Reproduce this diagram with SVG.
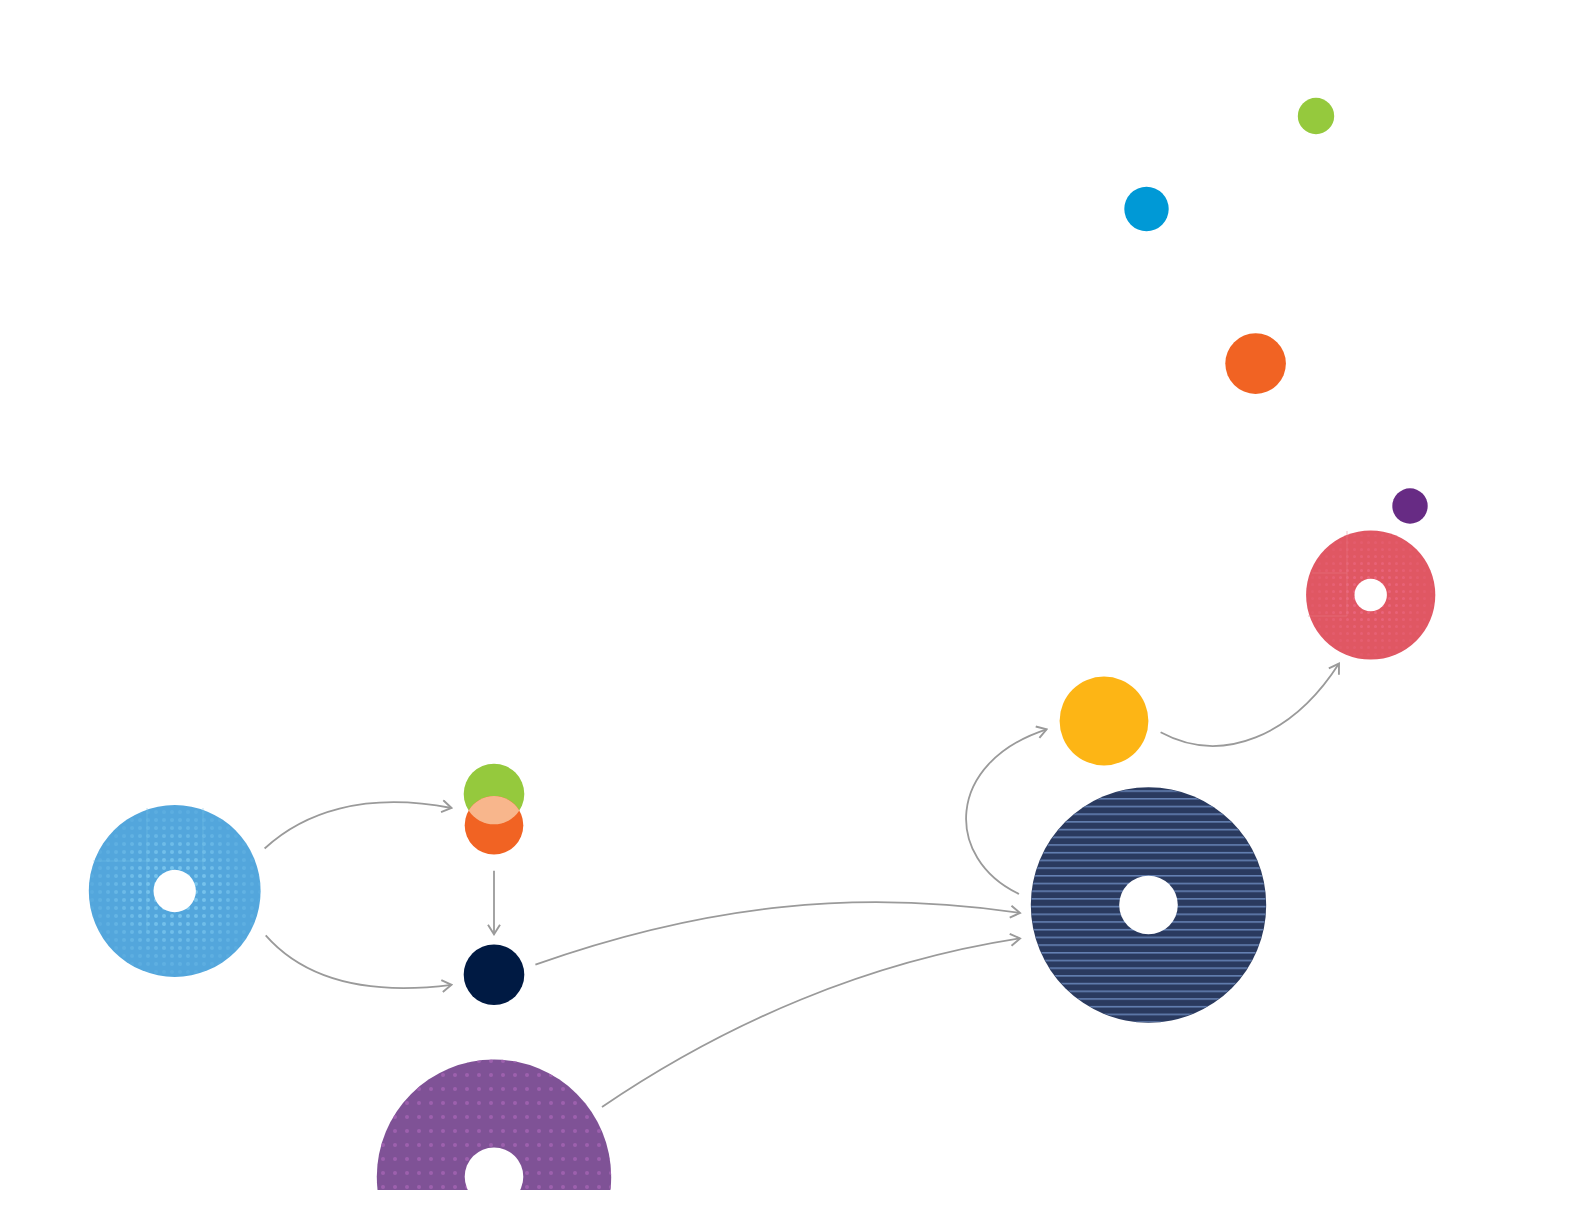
<svg xmlns="http://www.w3.org/2000/svg" width="1584" height="1224" viewBox="0 0 1584 1224">
<style>
.conn{fill:none;stroke:#9a9a9a;stroke-width:1.8;marker-end:url(#arr)}
.hole{fill:#ffffff}
</style>
<defs>
<marker id="arr" viewBox="0 0 14 14" refX="12" refY="7" markerWidth="14" markerHeight="14" markerUnits="userSpaceOnUse" orient="auto">
<path d="M2.5,1 L12,7 L2.5,13" fill="none" stroke="#9a9a9a" stroke-width="1.9"/>
</marker>
<pattern id="dotsBlue" width="8" height="8" patternUnits="userSpaceOnUse">
<circle cx="4" cy="4" r="2" fill="#7cc8ef"/>
</pattern>
<pattern id="dotsRed" width="7" height="7" patternUnits="userSpaceOnUse">
<circle cx="3.5" cy="3.5" r="1.5" fill="#ee6a86"/>
</pattern>
<pattern id="dotsPurple" width="12" height="14" patternUnits="userSpaceOnUse" x="5" y="4">
<circle cx="6" cy="7" r="2" fill="#a062b0"/>
</pattern>
<pattern id="linesNavy" width="40" height="7.7" patternUnits="userSpaceOnUse" y="2">
<rect x="0" y="3" width="40" height="1.4" fill="#7393c8"/>
</pattern>
<radialGradient id="fade" cx="0.5" cy="0.5" r="0.5">
<stop offset="0.2" stop-color="#fff" stop-opacity="1"/>
<stop offset="0.5" stop-color="#fff" stop-opacity="0.75"/>
<stop offset="1" stop-color="#fff" stop-opacity="0.15"/>
</radialGradient>
<mask id="fadeMask" maskContentUnits="objectBoundingBox">
<rect width="1" height="1" fill="url(#fade)"/>
</mask>
<clipPath id="bottomClip"><rect x="0" y="0" width="1584" height="1190"/></clipPath>
</defs>
<rect width="1584" height="1224" fill="#ffffff"/>

<g id="connectors">
<path class="conn" d="M264.6,848.5 C303,813 363.6,791 451.5,808"/>
<path class="conn" d="M265.7,935.4 C303,977.8 363.6,996 451.5,984.8"/>
<path class="conn" d="M494,870.7 L494,934.3"/>
<path class="conn" d="M535.4,964.6 C707,904 858.6,889 1020,913"/>
<path class="conn" d="M602,1107 C727,1022 868.7,961.6 1020,938.4"/>
<path class="conn" d="M1019,894 C944.4,858.6 944.4,762.6 1046.6,729.3"/>
<path class="conn" d="M1160.6,732.3 C1222.3,765.7 1293,735.4 1339,663.6"/>
</g>

<g id="node-green-top"><circle cx="1316" cy="116" r="18.2" fill="#95c93d"/></g>
<g id="node-blue-top"><circle cx="1146.5" cy="209" r="22.2" fill="#0099d6"/></g>
<g id="node-orange-top"><circle cx="1255.6" cy="363.6" r="30.3" fill="#f16323"/></g>
<g id="node-purple-small"><circle cx="1410" cy="506" r="17.7" fill="#672b84"/></g>

<g id="node-red-donut">
<circle cx="1370.7" cy="595" r="64.6" fill="#e05763"/>
<circle cx="1370.7" cy="595" r="64.6" fill="url(#dotsRed)" mask="url(#fadeMask)" opacity="0.8"/>
<path d="M1312,573 H1347 V531" fill="none" stroke="#ea7a86" stroke-width="0.8" opacity="0.6"/>
<path d="M1347,573 V616 H1308" fill="none" stroke="#ea7a86" stroke-width="0.8" opacity="0.6"/>
<circle class="hole" cx="1370.7" cy="595" r="16.2"/>
</g>

<g id="node-yellow"><circle cx="1104" cy="721" r="44.4" fill="#fdb515"/></g>

<g id="node-navy-donut">
<circle cx="1148.5" cy="905" r="117.7" fill="#2a3a5f"/>
<circle cx="1148.5" cy="905" r="117.2" fill="url(#linesNavy)" opacity="0.9"/>
<circle class="hole" cx="1148.5" cy="905" r="29.3"/>
</g>

<g id="node-blue-donut">
<circle cx="174.7" cy="891" r="85.9" fill="#53a6dc"/>
<circle cx="174.7" cy="891" r="85.9" fill="url(#dotsBlue)" mask="url(#fadeMask)" opacity="0.95"/>
<path d="M147,808 V931 M203,808 V869 M93,861 H203" fill="none" stroke="#72bde6" stroke-width="0.8" opacity="0.6"/>
<circle class="hole" cx="174.7" cy="891" r="21.2"/>
</g>

<g id="node-green-orange">
<circle cx="494" cy="794" r="30.3" fill="#95c93d"/>
<circle cx="494" cy="825.3" r="29.3" fill="#f16323"/>
<path d="M468.65,810.6 A30.3,30.3 0 0 0 519.35,810.6 A29.3,29.3 0 0 0 468.65,810.6 Z" fill="#f8b68c"/>
</g>

<g id="node-navy-circle"><circle cx="494" cy="974.7" r="30.3" fill="#001a43"/></g>

<g id="node-purple-donut" clip-path="url(#bottomClip)">
<circle cx="494" cy="1176.8" r="117.2" fill="#7f5296"/>
<circle cx="494" cy="1176.8" r="117.2" fill="url(#dotsPurple)" opacity="0.9"/>
<circle class="hole" cx="494" cy="1176.8" r="29.3"/>
</g>
</svg>
